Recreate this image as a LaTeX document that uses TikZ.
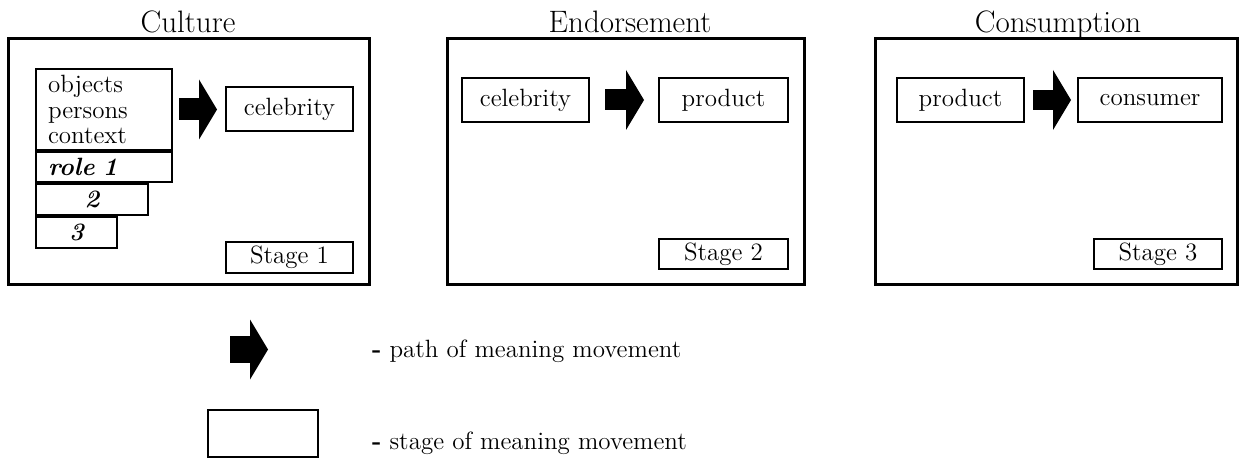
\documentclass[tikz,border=0pt]{standalone}
\usepackage{amsmath}
\usetikzlibrary{arrows.meta,positioning}

\begin{document}
\begin{tikzpicture}[x=0.5pt,y=-0.5pt,
                    frame/.style={draw, line width=1.5pt, inner sep=0pt},
                    box/.style={draw, line width=1pt, inner sep=0pt, font=\fontsize{12.5}{12.75}\selectfont},
                    role/.style={box, anchor=north west, font=\fontsize{12.5}{12.75}\selectfont\bfseries\itshape},
                    title/.style={anchor=base, font=\fontsize{15.5}{18}\selectfont},
                    mv/.style={line width=11pt, -{Triangle[length=9pt,width=30pt,line width=0pt]}},
                    ]
                    \useasboundingbox (0,0) rectangle (1245,459);

                    % the three stages
                    \node [frame, minimum width=180.5pt, minimum height=123pt](f1) at (188.5,162){};
                    \node [frame, minimum width=178.5pt, minimum height=123pt](f2) at (625.5,162){};
                    \node [frame, minimum width=181pt, minimum height=123pt](f3) at (1056,162){};
                    \node [title](t1) at (188,33){Culture};
                    \node [title](t2) at (630,33){Endorsement};
                    \node [title](t3) at (1058,33){Consumption};

                    % stage 1
                    \node [box, minimum width=68pt, minimum height=40.5pt, text width=56pt, align=left](objs) at (104,109.5){objects\\persons\\context};
                    \node [role, minimum width=68pt, minimum height=15pt, text width=56pt, align=left](r1) at (objs.south west){role 1};
                    \node [role, minimum width=56pt, minimum height=15.5pt](r2) at (r1.south west){2};
                    \node [role, minimum width=40.5pt, minimum height=15.5pt](r3) at (r2.south west){3};
                    \node [box, minimum width=63.5pt, minimum height=22pt](cel1) at (289.5,109.5){celebrity};
                    \node [box, minimum width=63.5pt, minimum height=15.5pt](st1) at (289.5,257.5){Stage 1};

                    % stage 2
                    \node [box, minimum width=63.5pt, minimum height=22pt](cel2) at (525.5,100){celebrity};
                    \node [box, minimum width=64.5pt, minimum height=22pt](prod2) at (723.5,100){product};
                    \node [box, minimum width=64.5pt, minimum height=15pt](st2) at (723.5,254){Stage 2};

                    % stage 3
                    \node [box, minimum width=63.5pt, minimum height=22pt](prod3) at (960.5,100){product};
                    \node [box, minimum width=72pt, minimum height=22pt](cons3) at (1150,100){consumer};
                    \node [box, minimum width=64pt, minimum height=15pt](st3) at (1158,254){Stage 3};

                    % key
                    \coordinate (ka) at (230,349.5);
                    \coordinate (kb) at (268,349.5);
                    \node [box, minimum width=55pt, minimum height=23.5pt](kbox) at (263,433.5){};
                    \node [anchor=base west, font=\fontsize{12.5}{14}\selectfont](k1) at (365,357){\textbf{-} path of meaning movement};
                    \node [anchor=base west, font=\fontsize{12.5}{14}\selectfont](k2) at (365,449){\textbf{-} stage of meaning movement};

                    \path
                        (objs) edge[mv, shorten <=3pt, shorten >=4pt] (cel1)
                        (cel2) edge[mv, line width=10.5pt, shorten <=7.5pt, shorten >=7pt] (prod2)
                        (prod3) edge[mv, line width=10pt, shorten <=4pt, shorten >=3pt] (cons3)
                        (ka) edge[mv, line width=13.5pt] (kb)
                    ;

                \end{tikzpicture}
\end{document}
